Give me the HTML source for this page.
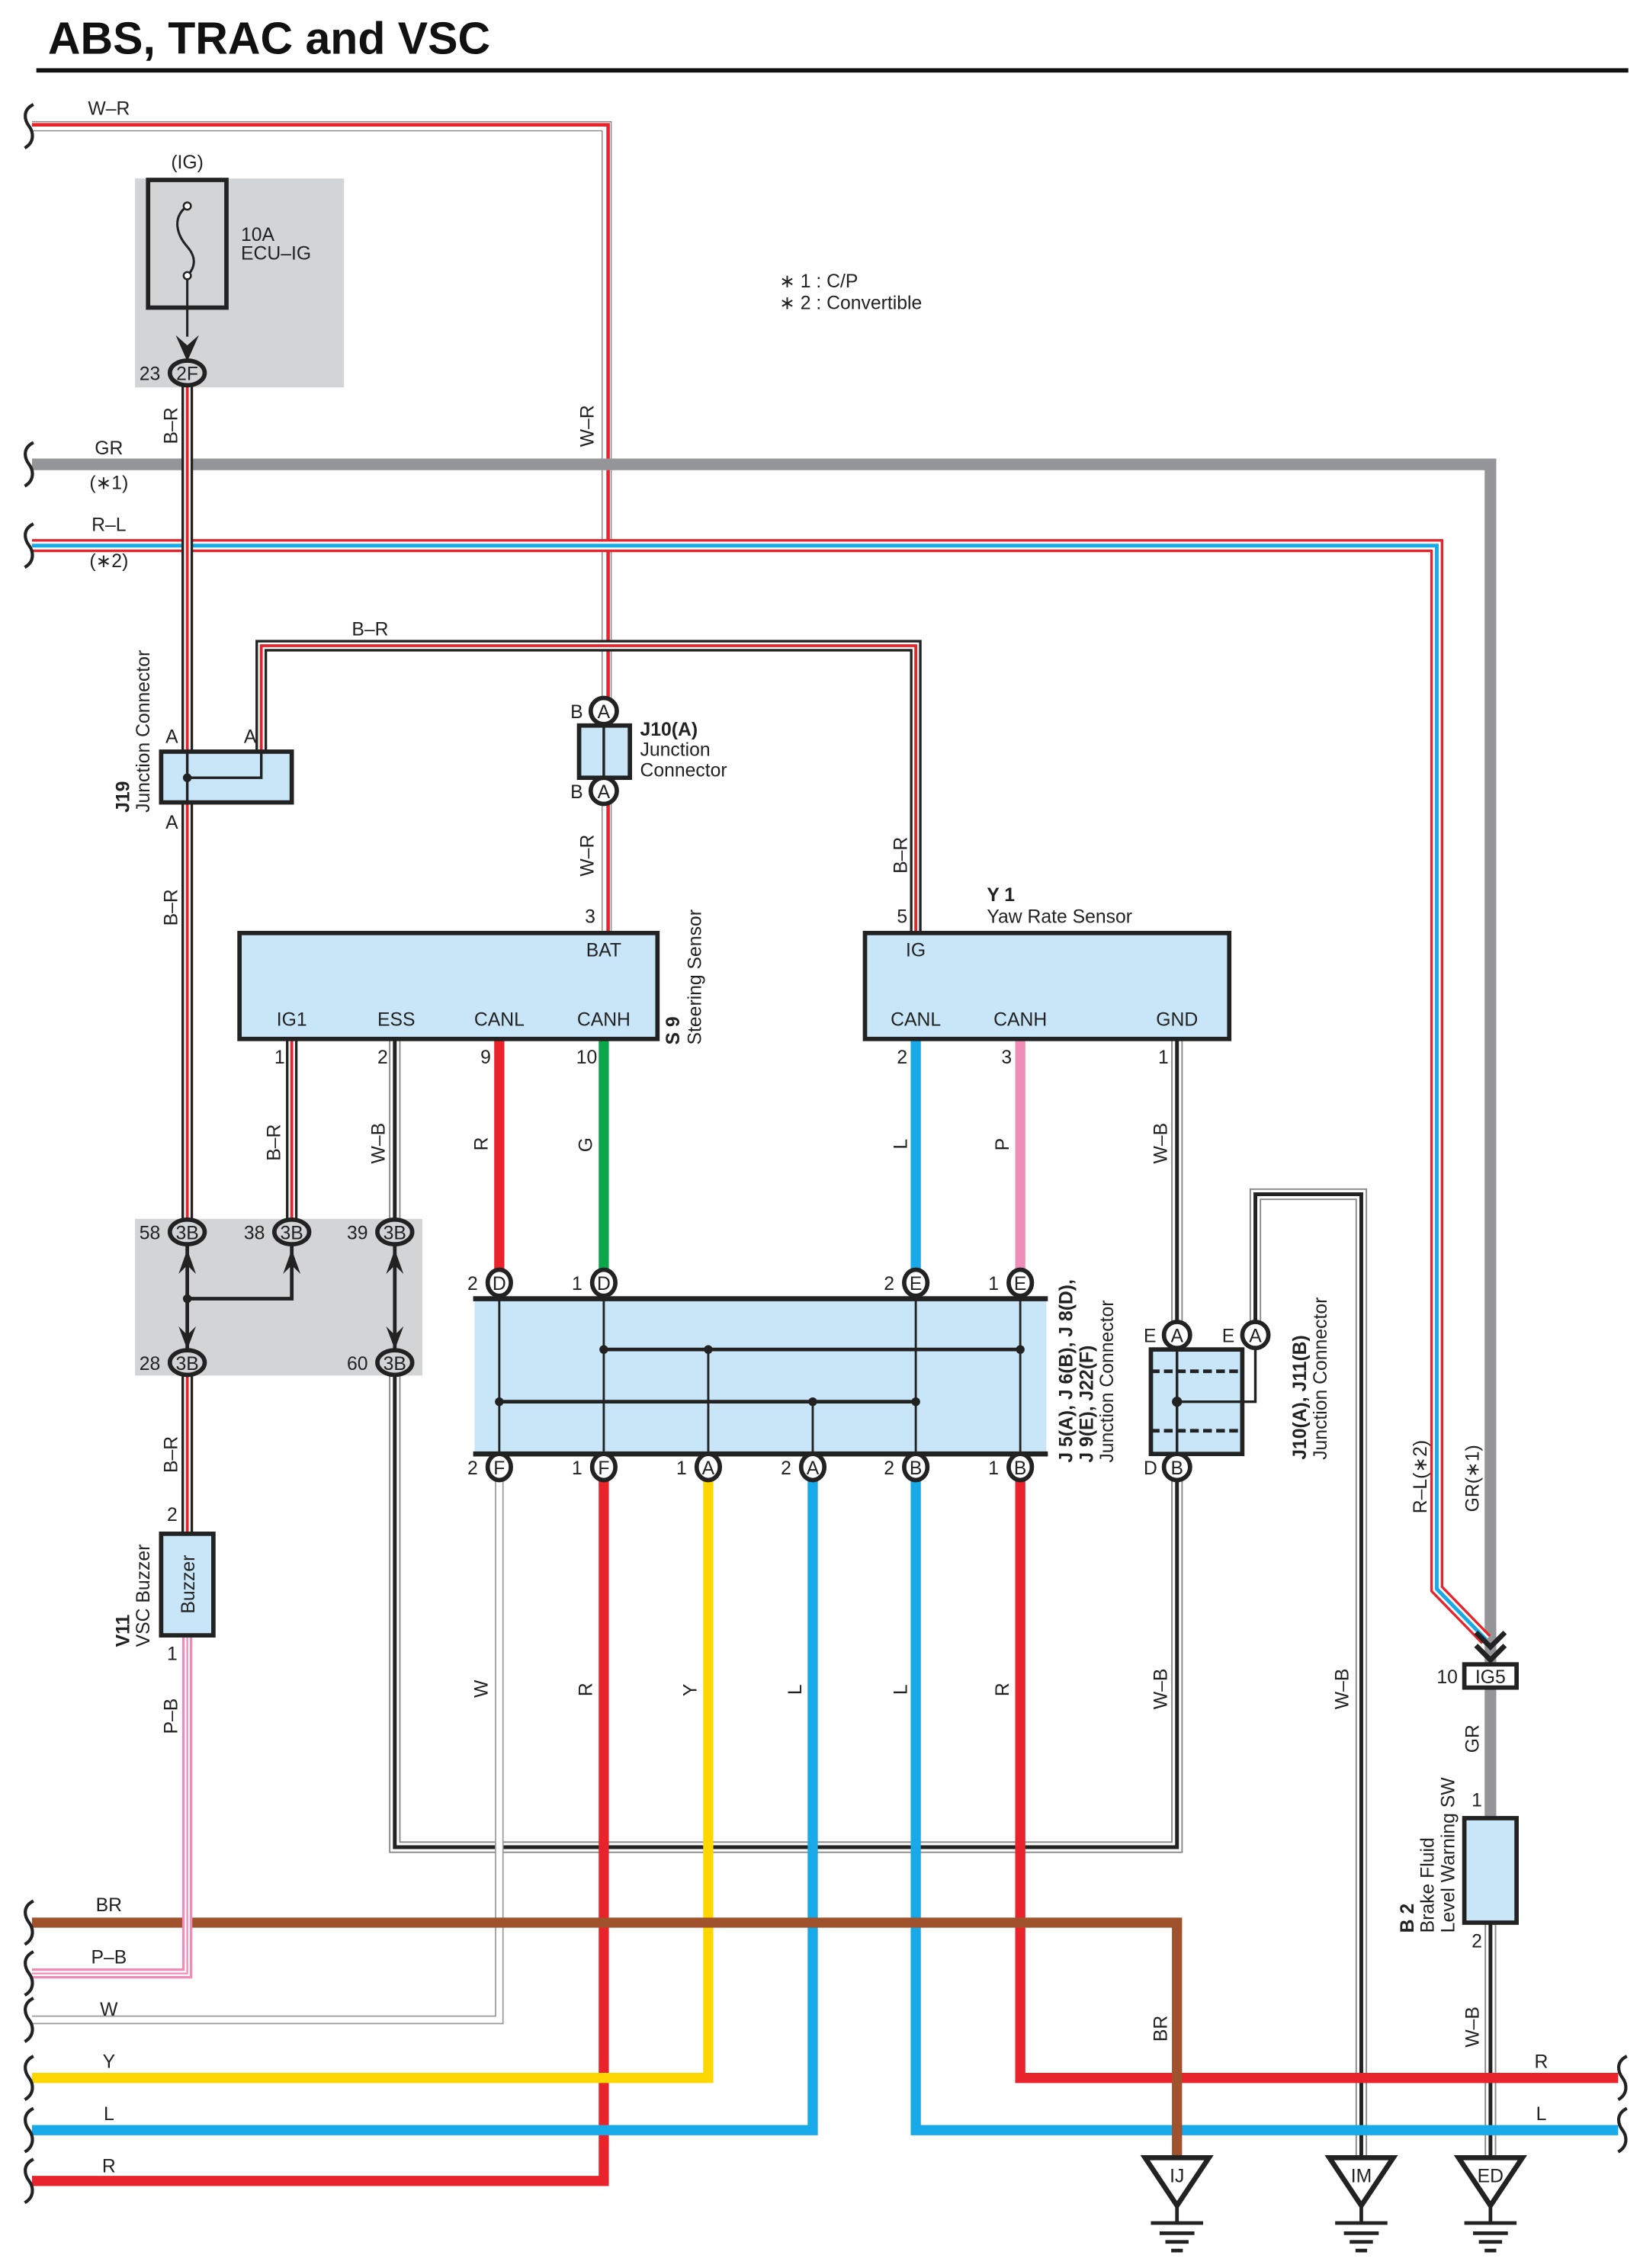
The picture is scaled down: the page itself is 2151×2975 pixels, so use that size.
<!DOCTYPE html>
<html><head><meta charset="utf-8"><style>body{margin:0;background:#fff}svg{display:block}text{font-family:"Liberation Sans",sans-serif;font-size:13px;fill:#222}</style></head>
<body>
<svg width="2151" height="2975" viewBox="0 0 1130 1563" xmlns="http://www.w3.org/2000/svg">
<defs>
<g id="gnd"><path d="M-22,0 L22,0 L0,33 Z" fill="#fff" stroke="#222" stroke-width="3.5" stroke-linejoin="miter"/><path d="M0,33 V45 M-18,45 H18 M-12,52 H12 M-8,58 H8 M-4,64 H4" stroke="#222" stroke-width="2.5"/></g>
<path id="brk" d="M3,-15 C-5,-11 -3,-4 0,0 C3,4 4,11 -3,15" fill="none" stroke="#222" stroke-width="2.2"/>
</defs>
<text x="33" y="37" style="font-size:31px;font-weight:bold;fill:#111">ABS, TRAC and VSC</text>
<rect x="25" y="47" width="1097" height="3" fill="#111"/>
<text x="537" y="198">∗ 1 : C/P</text><text x="537" y="213">∗ 2 : Convertible</text>

<rect x="93" y="123" width="144" height="144" fill="#d3d4d6"/>
<rect x="102" y="124" width="54" height="88" fill="none" stroke="#222" stroke-width="3"/>
<text x="129" y="116" text-anchor="middle">(IG)</text>
<text x="166" y="166">10A</text><text x="166" y="179">ECU–IG</text>
<path d="M129,142 C118,150 122,162 129,170 C136,178 134,185 129,190 V232" fill="none" stroke="#222" stroke-width="1.6"/>
<circle cx="129" cy="142" r="2.5" fill="#fff" stroke="#222" stroke-width="1.3"/><circle cx="129" cy="190" r="2.5" fill="#fff" stroke="#222" stroke-width="1.3"/>
<path d="M121,231 L129,249 L137,231 L129,238 Z" fill="#222"/>

<g fill="none" stroke-linejoin="miter">
<g><path d="M22,87 H418 V490 M418,545 V643" stroke="#888" stroke-width="7"/><path d="M22,87 H418 V490 M418,545 V643" stroke="#fff" stroke-width="5.5"/><path d="M22,86 H419 V490 M419,545 V643" stroke="#e8232b" stroke-width="2.4"/></g>
<path d="M22,320 H1027 V1147 M1027,1163 V1253" stroke="#939598" stroke-width="8"/>
<g><path d="M22,376 H990 V1095 L1024,1130" stroke="#e8232b" stroke-width="9"/><path d="M22,376 H990 V1095 L1024,1130" stroke="#fff" stroke-width="5.5"/><path d="M22,376 H990 V1095 L1024,1130" stroke="#17a9e8" stroke-width="2.6"/></g>
<g><path d="M129,262 V1057 M180,518 V445 H631 V643 M201,716 V849" stroke="#222" stroke-width="8"/><path d="M129,262 V1057 M180,518 V445 H631 V643 M201,716 V849" stroke="#fff" stroke-width="4.5"/><path d="M129,262 V1057 M180,518 V445 H631 V643 M201,716 V849" stroke="#e8232b" stroke-width="2"/></g>
<g><path d="M272,716 V1273 H811 V716 M865,920 V823 H938 V1487 M1027,1325 V1487" stroke="#888" stroke-width="8"/><path d="M272,716 V1273 H811 V716 M865,920 V823 H938 V1487 M1027,1325 V1487" stroke="#fff" stroke-width="6"/><path d="M272,716 V1273 H811 V716 M865,920 V823 H938 V1487 M1027,1325 V1487" stroke="#222" stroke-width="2.6"/></g>
<path d="M344,1011 V1392 H22" stroke="#999" stroke-width="6"/><path d="M344,1011 V1392 H22" stroke="#fff" stroke-width="4.2"/>
<path d="M344,716 V884" stroke="#e8232b" stroke-width="7"/>
<path d="M416,716 V884" stroke="#0aa64b" stroke-width="7"/>
<path d="M631,716 V884" stroke="#17a9e8" stroke-width="7"/>
<path d="M703,716 V884" stroke="#f08cb8" stroke-width="7"/>
<path d="M416,1011 V1503 H22" stroke="#e8232b" stroke-width="7"/>
<path d="M488,1011 V1432 H22" stroke="#ffd700" stroke-width="7"/>
<path d="M560,1011 V1468 H22" stroke="#17a9e8" stroke-width="7"/>
<path d="M631,1011 V1468 H1115" stroke="#17a9e8" stroke-width="7"/>
<path d="M703,1011 V1432 H1115" stroke="#e8232b" stroke-width="7"/>
<path d="M22,1325 H811 V1487" stroke="#a0522d" stroke-width="7"/>
<path d="M129,1127 V1360 H22" stroke="#f08cb8" stroke-width="7"/><path d="M129,1127 V1360 H22" stroke="#fff" stroke-width="3.5"/><path d="M129,1127 V1360 H22" stroke="#f08cb8" stroke-width="1.2"/>
</g>

<g>
<use href="#brk" x="20" y="87"/><use href="#brk" x="20" y="320"/><use href="#brk" x="20" y="376"/>
<use href="#brk" x="20" y="1325"/><use href="#brk" x="20" y="1360"/><use href="#brk" x="20" y="1392"/><use href="#brk" x="20" y="1432"/><use href="#brk" x="20" y="1468"/><use href="#brk" x="20" y="1503"/>
<use href="#brk" x="1118" y="1432"/><use href="#brk" x="1118" y="1468"/>
</g>

<ellipse cx="129" cy="257" rx="12" ry="8.5" fill="#d3d4d6" stroke="#222" stroke-width="3"/><text x="129" y="262" text-anchor="middle">2F</text><text x="96" y="262">23</text>

<rect x="111" y="518" width="90" height="35" fill="#c8e6f8" stroke="#222" stroke-width="3"/>
<path d="M129,518 V553 M129,536 H180 V518" fill="none" stroke="#222" stroke-width="1.8"/><circle cx="129" cy="536" r="3" fill="#222"/>
<text x="114" y="512">A</text><text x="168" y="512">A</text><text x="114" y="571">A</text>
<text transform="translate(89,560) rotate(-90)" style="font-weight:bold">J19</text>
<text transform="translate(103,560) rotate(-90)">Junction Connector</text>

<rect x="399" y="500" width="35" height="36" fill="#c8e6f8" stroke="#222" stroke-width="3"/><path d="M416,500 V536" stroke="#222" stroke-width="1.8"/>
<circle cx="416" cy="490" r="9" fill="#fff" stroke="#222" stroke-width="3"/><text x="416" y="495" text-anchor="middle">A</text>
<circle cx="416" cy="545" r="9" fill="#fff" stroke="#222" stroke-width="3"/><text x="416" y="550" text-anchor="middle">A</text>
<text x="393" y="495">B</text><text x="393" y="550">B</text>
<text x="441" y="507" style="font-weight:bold">J10(A)</text><text x="441" y="521">Junction</text><text x="441" y="535">Connector</text>

<rect x="165" y="643" width="288" height="73" fill="#c8e6f8" stroke="#222" stroke-width="3"/>
<text x="416" y="659" text-anchor="middle">BAT</text>
<text x="201" y="707" text-anchor="middle">IG1</text><text x="273" y="707" text-anchor="middle">ESS</text><text x="344" y="707" text-anchor="middle">CANL</text><text x="416" y="707" text-anchor="middle">CANH</text>
<text x="403" y="636">3</text><text x="189" y="733">1</text><text x="260" y="733">2</text><text x="331" y="733">9</text><text x="397" y="733">10</text>
<text transform="translate(468,720) rotate(-90)" style="font-weight:bold">S 9</text>
<text transform="translate(483,720) rotate(-90)">Steering Sensor</text>

<rect x="596" y="643" width="251" height="73" fill="#c8e6f8" stroke="#222" stroke-width="3"/>
<text x="631" y="659" text-anchor="middle">IG</text>
<text x="631" y="707" text-anchor="middle">CANL</text><text x="703" y="707" text-anchor="middle">CANH</text><text x="811" y="707" text-anchor="middle">GND</text>
<text x="618" y="636">5</text><text x="618" y="733">2</text><text x="690" y="733">3</text><text x="798" y="733">1</text>
<text x="680" y="621" style="font-weight:bold">Y 1</text><text x="680" y="636">Yaw Rate Sensor</text>

<g>
<text transform="translate(122,306) rotate(-90)">B–R</text>
<text transform="translate(409,308) rotate(-90)">W–R</text>
<text transform="translate(409,604) rotate(-90)">W–R</text>
<text transform="translate(625,602) rotate(-90)">B–R</text>
<text transform="translate(122,638) rotate(-90)">B–R</text>
<text transform="translate(193,800) rotate(-90)">B–R</text>
<text transform="translate(265,802) rotate(-90)">W–B</text>
<text transform="translate(336,793) rotate(-90)">R</text>
<text transform="translate(408,794) rotate(-90)">G</text>
<text transform="translate(625,792) rotate(-90)">L</text>
<text transform="translate(695,793) rotate(-90)">P</text>
<text transform="translate(804,802) rotate(-90)">W–B</text>
<text transform="translate(122,1015) rotate(-90)">B–R</text>
<text transform="translate(122,1195) rotate(-90)">P–B</text>
<text transform="translate(336,1170) rotate(-90)">W</text>
<text transform="translate(408,1169) rotate(-90)">R</text>
<text transform="translate(480,1169) rotate(-90)">Y</text>
<text transform="translate(552,1168) rotate(-90)">L</text>
<text transform="translate(625,1168) rotate(-90)">L</text>
<text transform="translate(695,1169) rotate(-90)">R</text>
<text transform="translate(804,1178) rotate(-90)">W–B</text>
<text transform="translate(929,1178) rotate(-90)">W–B</text>
<text transform="translate(804,1407) rotate(-90)">BR</text>
<text transform="translate(983,1043) rotate(-90)">R–L(∗2)</text>
<text transform="translate(1019,1042) rotate(-90)">GR(∗1)</text>
<text transform="translate(1019,1208) rotate(-90)">GR</text>
<text transform="translate(1019,1411) rotate(-90)">W–B</text>
</g>
<text x="75" y="79" text-anchor="middle">W–R</text>
<text x="75" y="313" text-anchor="middle">GR</text><text x="75" y="337" text-anchor="middle">(∗1)</text>
<text x="75" y="366" text-anchor="middle">R–L</text><text x="75" y="391" text-anchor="middle">(∗2)</text>
<text x="255" y="438" text-anchor="middle">B–R</text>
<text x="75" y="1317" text-anchor="middle">BR</text><text x="75" y="1353" text-anchor="middle">P–B</text><text x="75" y="1389" text-anchor="middle">W</text>
<text x="75" y="1425" text-anchor="middle">Y</text><text x="75" y="1461" text-anchor="middle">L</text><text x="75" y="1497" text-anchor="middle">R</text>
<text x="1062" y="1425" text-anchor="middle">R</text><text x="1062" y="1461" text-anchor="middle">L</text>

<rect x="93" y="840" width="198" height="108" fill="#d3d4d6"/>
<path d="M129,858 V930 M129,895 H201 V858 M272,858 V930" fill="none" stroke="#222" stroke-width="2.5"/><circle cx="129" cy="895" r="3" fill="#222"/>
<g fill="#222">
<path d="M123,878 L129,861 L135,878 L129,872 Z"/><path d="M195,878 L201,861 L207,878 L201,872 Z"/><path d="M266,878 L272,861 L278,878 L272,872 Z"/>
<path d="M123,914 L129,930 L135,914 L129,920 Z"/><path d="M266,914 L272,930 L278,914 L272,920 Z"/>
</g>
<g stroke="#222" stroke-width="3" fill="#d3d4d6">
<ellipse cx="129" cy="849" rx="12" ry="8.5"/><ellipse cx="201" cy="849" rx="12" ry="8.5"/><ellipse cx="272" cy="849" rx="12" ry="8.5"/><ellipse cx="129" cy="939" rx="12" ry="8.5"/><ellipse cx="272" cy="939" rx="12" ry="8.5"/>
</g>
<text x="129" y="854" text-anchor="middle">3B</text><text x="201" y="854" text-anchor="middle">3B</text><text x="272" y="854" text-anchor="middle">3B</text><text x="129" y="944" text-anchor="middle">3B</text><text x="272" y="944" text-anchor="middle">3B</text>
<text x="96" y="854">58</text><text x="168" y="854">38</text><text x="239" y="854">39</text><text x="96" y="944">28</text><text x="239" y="944">60</text>

<rect x="327" y="895" width="394" height="107" fill="#c8e6f8"/>
<path d="M326,895 H722 M326,1002 H722" stroke="#222" stroke-width="3.5"/>
<path d="M344,893 V1004 M416,893 V1004 M631,893 V1004 M703,893 V1004 M488,930 V1004 M560,966 V1004" stroke="#222" stroke-width="1.5"/>
<path d="M416,930 H703 M344,966 H631" stroke="#222" stroke-width="2.5"/>
<g fill="#222"><circle cx="416" cy="930" r="3"/><circle cx="488" cy="930" r="3"/><circle cx="703" cy="930" r="3"/><circle cx="344" cy="966" r="3"/><circle cx="560" cy="966" r="3"/><circle cx="631" cy="966" r="3"/></g>
<g stroke="#222" stroke-width="3" fill="#fff">
<ellipse cx="344" cy="884" rx="8" ry="9"/><ellipse cx="416" cy="884" rx="8" ry="9"/><ellipse cx="631" cy="884" rx="8" ry="9"/><ellipse cx="703" cy="884" rx="8" ry="9"/>
<ellipse cx="344" cy="1011" rx="8" ry="9"/><ellipse cx="416" cy="1011" rx="8" ry="9"/><ellipse cx="488" cy="1011" rx="8" ry="9"/><ellipse cx="560" cy="1011" rx="8" ry="9"/><ellipse cx="631" cy="1011" rx="8" ry="9"/><ellipse cx="703" cy="1011" rx="8" ry="9"/>
</g>
<g text-anchor="middle">
<text x="344" y="889">D</text><text x="416" y="889">D</text><text x="631" y="889">E</text><text x="703" y="889">E</text>
<text x="344" y="1016">F</text><text x="416" y="1016">F</text><text x="488" y="1016">A</text><text x="560" y="1016">A</text><text x="631" y="1016">B</text><text x="703" y="1016">B</text>
</g>
<text x="322" y="889">2</text><text x="394" y="889">1</text><text x="609" y="889">2</text><text x="681" y="889">1</text>
<text x="322" y="1016">2</text><text x="394" y="1016">1</text><text x="466" y="1016">1</text><text x="538" y="1016">2</text><text x="609" y="1016">2</text><text x="681" y="1016">1</text>
<text transform="translate(739,1008) rotate(-90)" style="font-weight:bold">J 5(A), J 6(B), J 8(D),</text>
<text transform="translate(753,1008) rotate(-90)" style="font-weight:bold">J 9(E), J22(F)</text>
<text transform="translate(767,1008) rotate(-90)">Junction Connector</text>

<rect x="793" y="930" width="63" height="72" fill="#c8e6f8" stroke="#222" stroke-width="3"/>
<path d="M793,945 H856 M793,986 H856" stroke="#222" stroke-width="2.5" stroke-dasharray="6,3"/>
<path d="M811,930 V1002 M811,966 H865 V930" fill="none" stroke="#222" stroke-width="1.8"/><circle cx="811" cy="966" r="3.5" fill="#222"/>
<g stroke="#222" stroke-width="3" fill="#fff"><circle cx="811" cy="920" r="9"/><circle cx="865" cy="920" r="9"/><circle cx="811" cy="1011" r="9"/></g>
<text x="811" y="925" text-anchor="middle">A</text><text x="865" y="925" text-anchor="middle">A</text><text x="811" y="1016" text-anchor="middle">B</text>
<text x="788" y="925">E</text><text x="842" y="925">E</text><text x="788" y="1016">D</text>
<text transform="translate(900,1006) rotate(-90)" style="font-weight:bold">J10(A), J11(B)</text>
<text transform="translate(914,1006) rotate(-90)">Junction Connector</text>

<path d="M1017,1125 L1027,1135 L1037,1125 M1017,1134 L1027,1144 L1037,1134" fill="none" stroke="#222" stroke-width="3.5"/>
<rect x="1009" y="1147" width="36" height="16" fill="#fff" stroke="#222" stroke-width="3"/>
<text x="1027" y="1160" text-anchor="middle">IG5</text><text x="990" y="1160">10</text>

<rect x="1009" y="1253" width="36" height="72" fill="#c8e6f8" stroke="#222" stroke-width="3"/>
<text x="1014" y="1245">1</text><text x="1014" y="1342">2</text>
<text transform="translate(974,1332) rotate(-90)" style="font-weight:bold">B 2</text>
<text transform="translate(988,1332) rotate(-90)">Brake Fluid</text>
<text transform="translate(1002,1332) rotate(-90)">Level Warning SW</text>

<rect x="111" y="1057" width="36" height="70" fill="#c8e6f8" stroke="#222" stroke-width="3"/>
<text transform="translate(134,1112) rotate(-90)">Buzzer</text>
<text x="115" y="1048">2</text><text x="115" y="1144">1</text>
<text transform="translate(89,1135) rotate(-90)" style="font-weight:bold">V11</text>
<text transform="translate(103,1135) rotate(-90)">VSC Buzzer</text>

<use href="#gnd" x="811" y="1487"/><use href="#gnd" x="938" y="1487"/><use href="#gnd" x="1027" y="1487"/>
<text x="811" y="1504" text-anchor="middle">IJ</text><text x="938" y="1504" text-anchor="middle">IM</text><text x="1027" y="1504" text-anchor="middle">ED</text>
</svg>
</body></html>
